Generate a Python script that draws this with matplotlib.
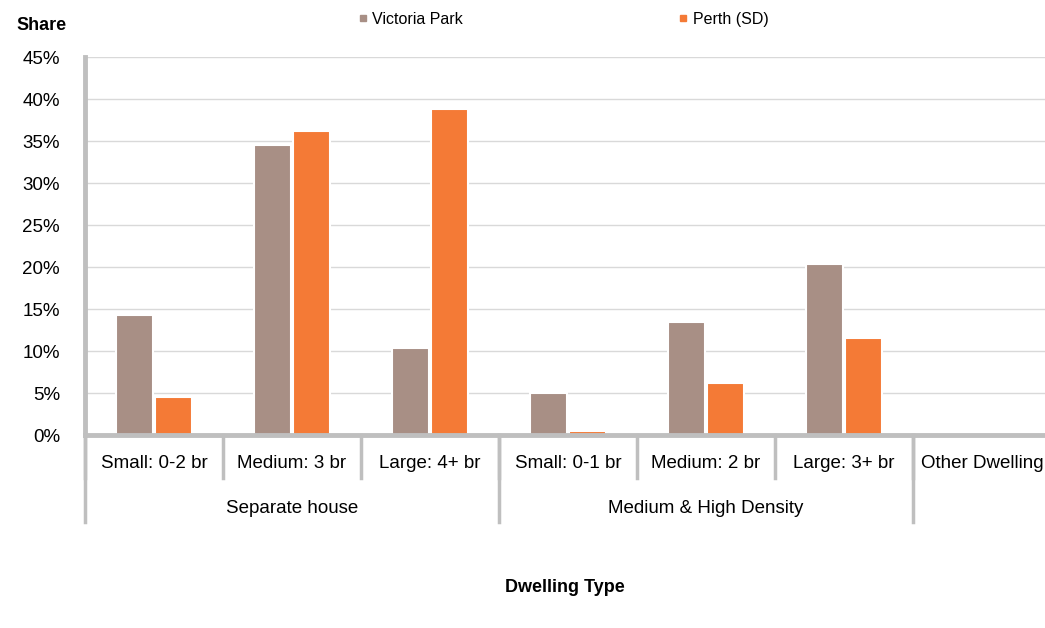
import numpy as np
import matplotlib.pyplot as plt
from matplotlib.lines import Line2D
from matplotlib.transforms import blended_transform_factory

plt.rcParams['font.family'] = ['Liberation Sans Narrow', 'Liberation Sans', 'DejaVu Sans']

# dwelling categories and the share of each (percent)
sub_labels = ['Small: 0-2 br', 'Medium: 3 br', 'Large: 4+ br',
              'Small: 0-1 br', 'Medium: 2 br', 'Large: 3+ br', 'Other Dwelling']
group_labels = ['Separate house', 'Medium & High Density', '']
group_sizes = [3, 3, 1]
victoria_park = [14.3, 34.5, 10.4, 5.0, 13.4, 20.4, 0.0]
perth_sd = [4.5, 36.2, 38.8, 0.5, 6.2, 11.5, 0.0]
series_names = ['Victoria Park', 'Perth (SD)']
colors = ['#a88f85', '#f47a36']

fig = plt.figure(figsize=(10.45, 6.28), dpi=100)
ax = fig.add_axes([0.0813, 0.3073, 0.9244, 0.6019])

x = np.arange(len(sub_labels))
w = 0.27
ax.bar(x - 0.14, victoria_park, w, color=colors[0], edgecolor='white', linewidth=1.5, zorder=2)
ax.bar(x + 0.14, perth_sd, w, color=colors[1], edgecolor='white', linewidth=1.5, zorder=2)

ax.set_xlim(-0.5, len(sub_labels) - 0.5)
ax.set_ylim(0, 45)
ax.set_yticks(np.arange(0, 46, 5))
ax.set_yticklabels([f'{v}%' for v in range(0, 46, 5)], fontsize=13.5)
ax.tick_params(axis='y', length=0, pad=18)
ax.set_xticks([])
ax.yaxis.grid(True, color='#d9d9d9', linewidth=1)
ax.set_axisbelow(True)

for s in ['top', 'right']:
    ax.spines[s].set_visible(False)
for s in ['left', 'bottom']:
    ax.spines[s].set_color('#bfbfbf')
    ax.spines[s].set_linewidth(3.5)
    ax.spines[s].set_zorder(3)

# two-level category axis
trans = blended_transform_factory(ax.transData, ax.transAxes)
for i, lab in enumerate(sub_labels):
    ax.text(i, -0.075, lab, transform=trans, ha='center', va='center', fontsize=13.5)
for b in np.arange(len(sub_labels) + 1) - 0.5:
    ax.plot([b, b], [0, -0.115], transform=trans, color='#bfbfbf', lw=2.5, clip_on=False)
start = 0
for g, n in zip(group_labels, group_sizes):
    ax.text(start + n / 2 - 0.5, -0.195, g, transform=trans, ha='center', va='center', fontsize=13.5)
    b = start - 0.5
    ax.plot([b, b], [0, -0.23], transform=trans, color='#bfbfbf', lw=2.5, clip_on=False)
    start += n
ax.plot([start - 0.5] * 2, [0, -0.23], transform=trans, color='#bfbfbf', lw=2.5, clip_on=False)

fig.text(0.040, 0.960, 'Share', ha='center', va='center', fontsize=13, fontweight='bold')
fig.text(0.541, 0.064, 'Dwelling Type', ha='center', va='center', fontsize=13, fontweight='bold')

handles = [Line2D([], [], marker='s', linestyle='', markersize=5, color=c) for c in colors]
fig.legend(handles, series_names, loc='center', bbox_to_anchor=(0.539, 0.969), ncol=2,
           frameon=False, fontsize=11.5, handlelength=0.6, handletextpad=0.3, columnspacing=13.5)

fig.savefig('out.png', dpi=100)
